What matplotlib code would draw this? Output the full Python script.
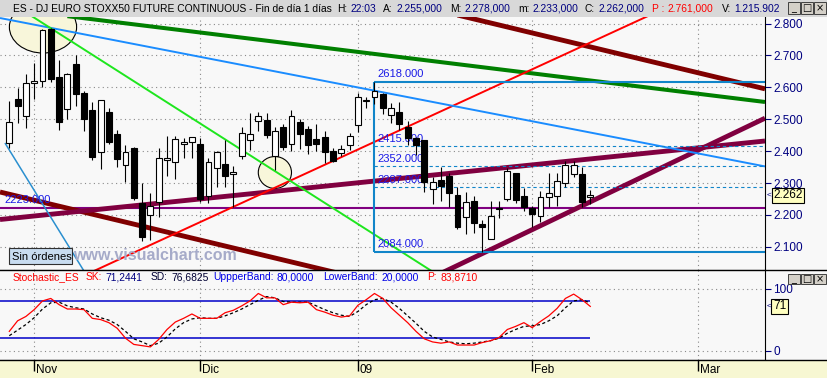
import matplotlib
matplotlib.use("Agg")
import matplotlib.pyplot as plt
import matplotlib.transforms as mtransforms
from matplotlib.patches import Rectangle, Ellipse

plt.rcParams['font.family'] = ['Liberation Sans', 'DejaVu Sans']

# ---- daily OHLC, ES DJ Euro Stoxx50 future (29 Oct 2008 -> 11 Feb 2009) ----
opens = [2.424, 2.563, 2.511, 2.613, 2.621, 2.782, 2.631, 2.531, 2.673, 2.582,
         2.529, 2.396, 2.523, 2.454, 2.355, 2.409, 2.236, 2.200, 2.239, 2.371,
         2.365, 2.421, 2.428, 2.421, 2.260, 2.346, 2.359, 2.329, 2.386, 2.434,
         2.493, 2.497, 2.385, 2.475, 2.422, 2.490, 2.468, 2.437, 2.443, 2.400,
         2.395, 2.418, 2.482, 2.557, 2.571, 2.579, 2.513, 2.524, 2.475, 2.440,
         2.435, 2.281, 2.309, 2.322, 2.262, 2.194, 2.244, 2.171, 2.125, 2.222,
         2.249, 2.330, 2.259, 2.223, 2.198, 2.255, 2.260, 2.299, 2.328, 2.328,
         2.255]
highs = [2.557, 2.597, 2.642, 2.675, 2.782, 2.785, 2.686, 2.645, 2.701, 2.589,
         2.553, 2.559, 2.536, 2.466, 2.418, 2.412, 2.299, 2.268, 2.409, 2.447,
         2.447, 2.440, 2.445, 2.440, 2.378, 2.401, 2.435, 2.354, 2.477, 2.520,
         2.524, 2.518, 2.477, 2.484, 2.529, 2.501, 2.479, 2.484, 2.463, 2.411,
         2.419, 2.456, 2.581, 2.571, 2.618, 2.581, 2.550, 2.553, 2.494, 2.445,
         2.435, 2.318, 2.349, 2.330, 2.288, 2.273, 2.259, 2.184, 2.244, 2.245,
         2.346, 2.330, 2.285, 2.228, 2.275, 2.330, 2.330, 2.370, 2.370, 2.349,
         2.278]
lows = [2.410, 2.487, 2.473, 2.563, 2.602, 2.618, 2.466, 2.500, 2.541, 2.464,
        2.372, 2.343, 2.421, 2.349, 2.304, 2.247, 2.119, 2.121, 2.194, 2.323,
        2.312, 2.379, 2.379, 2.241, 2.236, 2.288, 2.288, 2.226, 2.376, 2.403,
        2.464, 2.442, 2.341, 2.403, 2.400, 2.407, 2.390, 2.400, 2.364, 2.365,
        2.385, 2.403, 2.459, 2.536, 2.547, 2.515, 2.487, 2.466, 2.419, 2.388,
        2.273, 2.233, 2.244, 2.226, 2.155, 2.139, 2.142, 2.084, 2.124, 2.189,
        2.245, 2.236, 2.212, 2.161, 2.179, 2.226, 2.228, 2.288, 2.320, 2.226,
        2.233]
closes = [2.490, 2.542, 2.613, 2.620, 2.779, 2.626, 2.492, 2.641, 2.580, 2.502,
          2.383, 2.559, 2.429, 2.374, 2.398, 2.254, 2.130, 2.229, 2.377, 2.377,
          2.437, 2.428, 2.443, 2.250, 2.365, 2.396, 2.323, 2.335, 2.456, 2.454,
          2.511, 2.450, 2.464, 2.412, 2.511, 2.453, 2.419, 2.421, 2.396, 2.369,
          2.408, 2.448, 2.569, 2.559, 2.588, 2.534, 2.536, 2.484, 2.440, 2.418,
          2.302, 2.302, 2.292, 2.268, 2.161, 2.240, 2.176, 2.163, 2.198, 2.219,
          2.338, 2.247, 2.226, 2.204, 2.255, 2.268, 2.307, 2.356, 2.356, 2.241,
          2.262]

# stochastic oscillator, read per bar
sk_values = [31, 48, 55, 66, 80, 84, 74, 67, 67, 66, 52, 50, 45, 36, 20, 10, 8, 6,
             18, 34, 46, 52, 59, 52, 52, 52, 61, 65, 72, 80, 92, 85, 85, 74, 78, 77,
             78, 66, 62, 57, 54, 56, 73, 82, 92, 84, 69, 57, 45, 31, 19, 14, 12, 14,
             9, 9, 9, 13, 16, 21, 34, 39, 45, 37, 47, 56, 68, 84, 91, 82, 71.2]
sd_values = [24, 33, 42, 53, 67, 77, 78, 72, 69, 67, 59, 53, 49, 42, 31, 19, 14, 8,
             12, 22, 35, 45, 51, 53, 52, 52, 56, 61, 67, 74, 81, 87, 85, 79, 78, 78,
             78, 72, 66, 61, 57, 55, 63, 74, 82, 84, 78, 68, 56, 44, 31, 22, 18, 14,
             12, 11, 12, 14, 16, 20, 28, 34, 39, 40, 42, 48, 56, 69, 80, 82, 76.7]
upper_band = 80
lower_band = 20

month_bars = [3, 23, 42, 63, 83]
month_labels = ['Nov', 'Dic', '09', 'Feb', 'Mar']
price_ticks = [2.1, 2.2, 2.3, 2.4, 2.5, 2.6, 2.7, 2.8]
stoch_ticks = [0, 100]

# drawn trend lines: ([bar0, bar1], [price0, price1])
green_trend = ([7.0, 91.05], [2.823, 2.554])
darkred_upper = ([54.0, 91.05], [2.8266, 2.5952])
darkred_lower = ([-1.12, 40.0], [2.2718, 2.015])
red_trend = ([9.0, 78.0], [2.0099, 2.836])
blue_upper = ([-1.12, 91.05], [2.8172, 2.352])
lime_trend = ([2.49, 51.5], [2.8267, 2.0139])
blue_steep = ([-0.52, 9.5], [2.4254, 2.0029])
wine_upper = ([-1.12, 91.05], [2.1856, 2.4317])
wine_lower = ([52.0, 91.05], [2.0167, 2.5032])

support_level = 2.223
fib_start_bar = 43.9
fib_high = 2.618
fib_low = 2.084
fib_levels = [2.415, 2.352, 2.287]

# circled zones: (bar, price, width in bars, height in price)
circle_top = (4.06, 2.789, 8.1, 0.163)
circle_mid = (32.0, 2.333, 4.0, 0.100)

W, H = 828, 378
NAVY = '#000080'
BG = '#f8f8f8'

fig = plt.figure(figsize=(W / 100, H / 100), dpi=100)
fig.patch.set_facecolor(BG)


def px_axes(x0, y0, x1, y1):
    return fig.add_axes([x0 / W, 1 - y1 / H, (x1 - x0) / W, (y1 - y0) / H])


xmin, xmax = -1.12, 91.05
dotted = (0, (1, 3))

# ---------------- price panel ----------------
ax = px_axes(0, 17, 765, 270)
ax.set_facecolor(BG)
ax.set_xlim(xmin, xmax)
ax.set_ylim(2.0273, 2.8204)
for s in ['left', 'top']:
    ax.spines[s].set_visible(False)
ax.spines['right'].set_color('black')
ax.spines['bottom'].set_color('black')
ax.yaxis.tick_right()
ax.set_yticks(price_ticks)
ax.set_yticklabels([f"{v:.3f}" for v in price_ticks])
ax.tick_params(axis='y', colors=NAVY, labelsize=8.5, length=4, pad=2)
ax.set_xticks(month_bars)
ax.tick_params(axis='x', length=0, labelbottom=False)
ax.set_axisbelow(True)
ax.grid(True, color='#8a8a8a', linestyle=dotted, linewidth=0.8)

for c in [circle_top, circle_mid]:
    ax.add_patch(Ellipse((c[0], c[1]), c[2], c[3], facecolor='#f8f6da',
                         edgecolor='black', linewidth=0.8, zorder=1))

ax.axhline(support_level, color='#800080', linewidth=1.5, zorder=2)
ax.annotate("2223.000", (xmin, support_level), xytext=(3.5, 3.5),
            textcoords='offset points', va='baseline', ha='left',
            color='#1a1ae6', fontsize=8, zorder=4)

lines = [
    (green_trend, '#008000', 2.9),
    (darkred_upper, '#800000', 3.5),
    (darkred_lower, '#800000', 3.5),
    (wine_upper, '#800040', 3.5),
    (wine_lower, '#800040', 3.5),
    (red_trend, '#ff0000', 1.4),
    (blue_upper, '#1a8cff', 1.4),
    (lime_trend, '#1ee61e', 1.4),
    (blue_steep, '#2a8fcf', 1.1),
]
for (bx, py), col, lw in lines:
    ax.plot(bx, py, color=col, linewidth=lw, solid_capstyle='butt', zorder=2)

# fibonacci box
FIB = '#1185c9'
ax.hlines([fib_high, fib_low], fib_start_bar, xmax, color=FIB, linewidth=1.5, zorder=2)
ax.vlines(fib_start_bar, fib_low, fib_high, color=FIB, linewidth=1.5, zorder=2)
ax.hlines(fib_levels, fib_start_bar, xmax, color=FIB, linewidth=0.8,
          linestyle=(0, (3, 2.5)), zorder=2)
for lvl in [fib_high] + fib_levels + [fib_low]:
    ax.annotate(f"{lvl * 1000:.3f}", (fib_start_bar, lvl), xytext=(3, 3.2),
                textcoords='offset points', va='baseline', ha='left',
                color='#1a1ae6', fontsize=8, zorder=2.5)

# candles
bars = list(range(len(closes)))
ax.vlines(bars, lows, highs, color='black', linewidth=0.8, zorder=3)
bottoms = [min(o, c) for o, c in zip(opens, closes)]
heights = [max(abs(c - o), 0.003) for o, c in zip(opens, closes)]
colors = ['white' if c >= o else 'black' for o, c in zip(opens, closes)]
ax.bar(bars, heights, bottom=bottoms, width=0.72, color=colors,
       edgecolor='black', linewidth=0.8, zorder=3.5)

# last price tag
trans = mtransforms.blended_transform_factory(ax.transAxes, ax.transData)
ax.text(1.0105, closes[-1], f"{closes[-1]:.3f}", transform=trans, ha='left',
        va='center', fontsize=8.5, color='black', clip_on=False, zorder=6,
        bbox=dict(boxstyle='square,pad=0.12', fc='#ffffc0', ec='black', lw=0.8))
ax.text(1.002, closes[-1], "<", transform=trans, ha='left', va='center',
        fontsize=6, color=NAVY, clip_on=False, zorder=6)

# ---------------- stochastic panel ----------------
ax2 = px_axes(0, 270, 765, 360)
ax2.set_facecolor(BG)
ax2.set_xlim(xmin, xmax)
ax2.set_ylim(-15.1, 129.8)
for s in ['left', 'top']:
    ax2.spines[s].set_visible(False)
ax2.yaxis.tick_right()
ax2.set_yticks(stoch_ticks)
ax2.set_yticklabels([str(v) for v in stoch_ticks])
ax2.tick_params(axis='y', colors=NAVY, labelsize=8.5, length=4, pad=2)
ax2.set_xticks(month_bars)
ax2.tick_params(axis='x', length=0, labelbottom=False)
ax2.set_axisbelow(True)
ax2.grid(True, color='#8a8a8a', linestyle=dotted, linewidth=0.8)
ax2.hlines([upper_band, lower_band], xmin, bars[-1], color='#0000c8', linewidth=1.1)
ax2.plot(bars, sd_values, color='black', linewidth=0.9, linestyle=(0, (2.5, 2)))
ax2.plot(bars, sk_values, color='#ff0000', linewidth=0.9)

trans2 = mtransforms.blended_transform_factory(ax2.transAxes, ax2.transData)
ax2.text(1.0105, sk_values[-1], f"{sk_values[-1]:.0f}", transform=trans2,
         ha='left', va='center', fontsize=8.5, color='black', clip_on=False,
         bbox=dict(boxstyle='square,pad=0.15', fc='#ffffc0', ec='black', lw=0.8))
ax2.text(1.002, sk_values[-1], "<", transform=trans2, ha='left', va='center',
         fontsize=6, color=NAVY, clip_on=False)

# ---------------- date strip ----------------
ax3 = px_axes(0, 360, 828, 378)
ax3.set_xlim(xmin, xmin + W / 8.3)
ax3.set_ylim(0, 1)
ax3.axis('off')
ax3.add_patch(Rectangle((0, 0), 1, 1, transform=ax3.transAxes,
                        fc='#f7f7d2', ec='none', zorder=0))
ax3.vlines(month_bars, 0.4, 1.0, color='black', linewidth=1)
for b, lab in zip(month_bars, month_labels):
    ax3.text(b + 0.2, 0.1, lab, ha='left', va='bottom', fontsize=8.5, color='black')

# ---------------- overlay: title bar, headers, widgets ----------------
ov = px_axes(0, 0, W, H)
ov.set_xlim(0, W)
ov.set_ylim(H, 0)
ov.axis('off')
ov.patch.set_alpha(0)


def label_pair(x, y, label, value, lab_col, val_col, size=7.4):
    """Draw a label and chain its value right after it."""
    t = ov.text(x, y, label, ha='left', va='center', fontsize=size, color=lab_col)
    if value:
        ov.annotate(value, xy=(1, 0), xycoords=t, xytext=(2.5, 0),
                    textcoords='offset points', ha='left', va='bottom',
                    fontsize=size, color=val_col)


ov.add_patch(Rectangle((0, 0), W, 17, fc='#d8d8d8', ec='none'))
title_parts = [
    (13, "ES - DJ EURO STOXX50 FUTURE CONTINUOUS - Fin de día 1 días", "", 'black', NAVY),
    (337, "H:", "22:03", 'black', NAVY),
    (383, "A:", "2.255,000", 'black', NAVY),
    (450, "M:", "2.278,000", 'black', NAVY),
    (518, "m:", "2.233,000", 'black', NAVY),
    (585, "C:", "2.262,000", 'black', NAVY),
    (652, "P :", "2.761,000", '#ff0000', '#ff0000'),
    (722, "V:", "1.215.902", 'black', NAVY),
]
for x, lab, val, c1, c2 in title_parts:
    label_pair(x, 8.5, lab, val, c1, c2)

stoch_parts = [
    (13, "Stochastic_ES", "", '#ff0000', '#ff0000'),
    (86, "SK:", "71,2441", '#ff0000', NAVY),
    (151, "SD:", "76,6825", '#000033', '#000033'),
    (213, "UppperBand:", "80,0000", '#0000e6', '#0000e6'),
    (323, "LowerBand:", "20,0000", '#0000e6', '#0000e6'),
    (427, "P:", "83,8710", '#ff0000', '#ff0000'),
]
for x, lab, val, c1, c2 in stoch_parts:
    label_pair(x, 277.5, lab, val, c1, c2)

# window buttons
for y0, hh in [(2, 12), (274, 10)]:
    for i, glyph in enumerate(['_', '□', '×']):
        x0 = 788 + i * 13
        ov.add_patch(Rectangle((x0, y0), 12, hh, fc='#d4d0c8', ec='#404040', lw=0.7))
        ov.text(x0 + 6, y0 + hh / 2, glyph, ha='center', va='center',
                fontsize=7, color='black', family='DejaVu Sans')

# panel separators
ov.plot([0, W], [270, 270], color='black', linewidth=1)
ov.plot([0, W], [359.5, 359.5], color='black', linewidth=1)

# order status and watermark
ov.add_patch(Rectangle((9.3, 248.3), 62.4, 16, fc='#c8dcf0', ec='#303030', lw=0.8))
ov.text(12, 256.6, "Sin órdenes", ha='left', va='center', fontsize=8, color='black')
ov.text(73, 255.5, "www.visualchart.com", ha='left', va='center', fontsize=11.5,
        fontweight='bold', color='#a6abc9')

fig.savefig("out.png", dpi=100, facecolor=fig.get_facecolor())
